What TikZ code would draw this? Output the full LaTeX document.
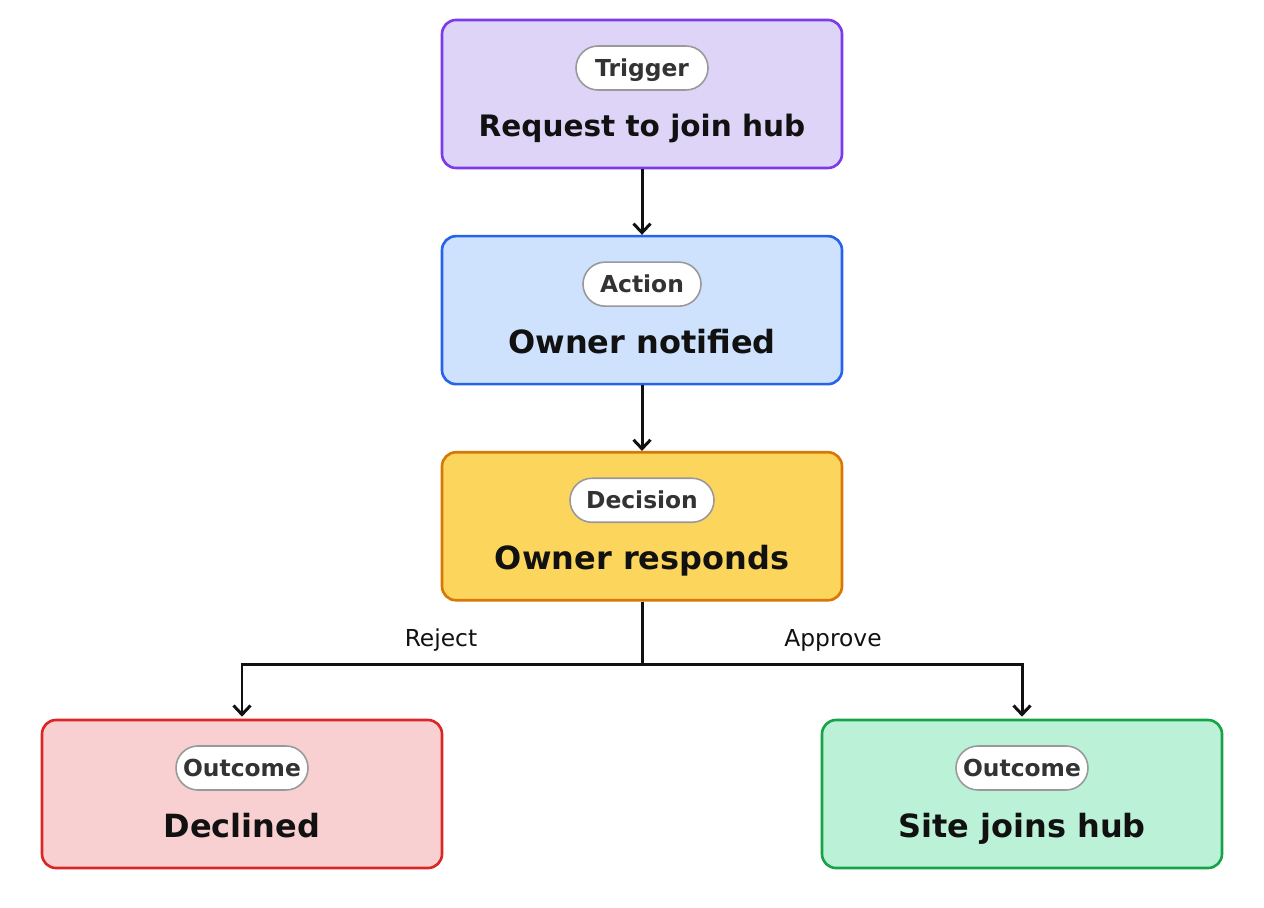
\documentclass[tikz,border=0pt]{standalone}
\usepackage{fontspec}
\setmainfont{DejaVu Sans}
\usetikzlibrary{arrows.meta, positioning}
\definecolor{trigfill}{HTML}{DDD4F7}
\definecolor{trigline}{HTML}{7C3AED}
\definecolor{actfill}{HTML}{CFE2FD}
\definecolor{actline}{HTML}{2563EB}
\definecolor{decfill}{HTML}{FCD55C}
\definecolor{decline}{HTML}{D97706}
\definecolor{nofill}{HTML}{F9D0D1}
\definecolor{noline}{HTML}{DC2626}
\definecolor{yesfill}{HTML}{BBF2D7}
\definecolor{yesline}{HTML}{16A34A}
\definecolor{pillline}{HTML}{999999}
\definecolor{pilltext}{HTML}{333333}
\definecolor{ink}{HTML}{111111}

\begin{document}
\begin{tikzpicture}[
  >={Straight Barb[length=1.8mm, width=3.4mm, line width=1.7pt]},
  card/.style={draw=#1line, fill=#1fill, line width=1.5pt, rounded corners=0.28cm,
    minimum width=8cm, minimum height=2.96cm, inner sep=0pt},
  pill/.style={draw=pillline, fill=white, line width=0.9pt, rounded corners=0.44cm,
    minimum width=#1, minimum height=0.88cm, inner sep=0pt, text=pilltext,
    text height=9.7pt, text depth=0pt,
    font=\fontsize{13.3}{15}\selectfont\bfseries},
  title/.style={text=ink, anchor=base, font=\fontsize{18.2}{21}\selectfont\bfseries},
  flow/.style={->, draw=ink, line width=1.7pt},
  branch/.style={text=ink, font=\fontsize{13.3}{15}\selectfont},
  node distance=1.31cm
]

% Canvas
\useasboundingbox (0,0) rectangle (25.28,-18.16);

% Stages
\node[card=trig] (trig) at (12.84,-1.88) {};
\node[card=act, below=of trig] (act) {};
\node[card=dec, below=of act] (dec) {};
\node[card=no] (no) at (4.84,-15.88) {};
\node[card=yes] (yes) at (20.44,-15.88) {};

% Tags
\node[pill=2.64cm] (trigtag) at ([yshift=0.52cm]trig.center) {Trigger};
\node[pill=2.36cm] (acttag) at ([yshift=0.52cm]act.center) {Action};
\node[pill=2.88cm] (dectag) at ([yshift=0.52cm]dec.center) {Decision};
\node[pill=2.64cm] (notag) at ([yshift=0.52cm]no.center) {Outcome};
\node[pill=2.64cm] (yestag) at ([yshift=0.52cm]yes.center) {Outcome};

% Titles
\node[title, font=\fontsize{16.8}{20}\selectfont\bfseries] (trigtext) at ([yshift=-0.86cm]trig.center) {Request to join hub};
\node[title] (acttext) at ([yshift=-0.86cm]act.center) {Owner notified};
\node[title] (dectext) at ([yshift=-0.86cm]dec.center) {Owner responds};
\node[title] (notext) at ([yshift=-0.86cm]no.center) {Declined};
\node[title] (yestext) at ([yshift=-0.86cm]yes.center) {Site joins hub};

% Connectors
\draw[flow] (trig.south) -- (act.north);
\draw[flow] (act.south) -- (dec.north);
\coordinate (split) at ([yshift=-1.26cm]dec.south);
\draw[flow] (dec.south) -- (split) -| ([yshift=0.04cm]no.north);
\draw[flow] (split) -| ([yshift=0.04cm]yes.north);

% Branch labels
\node[branch] (reject) at (8.82,-12.8) {Reject};
\node[branch] (approve) at (16.66,-12.8) {Approve};

\end{tikzpicture}
\end{document}
